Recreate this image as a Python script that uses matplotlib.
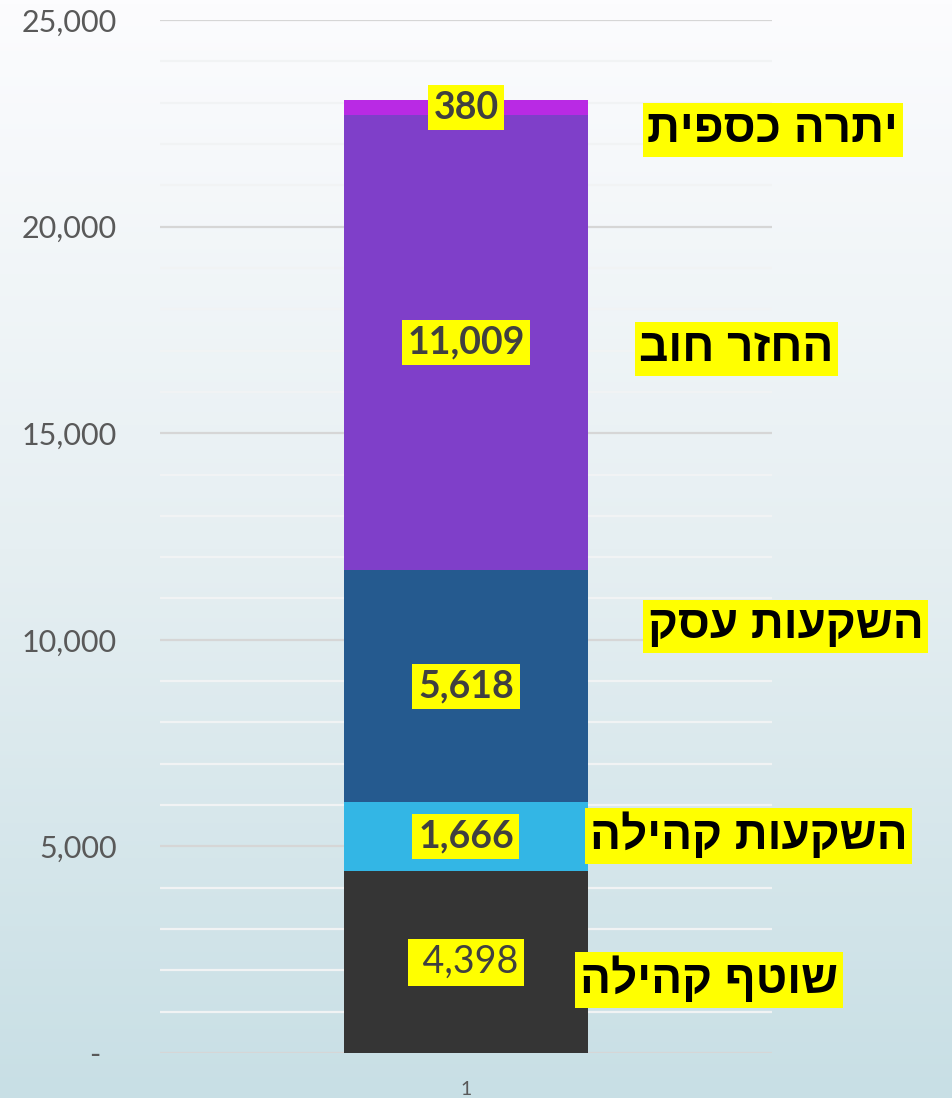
import matplotlib
matplotlib.use("Agg")
import matplotlib.pyplot as plt
import numpy as np
from matplotlib.colors import LinearSegmentedColormap
from matplotlib.ticker import FuncFormatter, MultipleLocator

# ---- data ----
categories = ["1"]
series_names = ["שוטף קהילה", "השקעות קהילה", "השקעות עסק", "החזר חוב", "יתרה כספית"]
series_values = [4398, 1666, 5618, 11009, 380]
series_colors = ["#353535", "#33b6e5", "#255a8f", "#7f3fc9", "#b92ae4"]
value_bold = [False, True, True, True, True]
y_ticks = [0, 5000, 10000, 15000, 20000, 25000]

# layout of the Hebrew name labels (axes fraction)
name_pos = [(0.897, 0.071), (0.962, 0.210), (1.022, 0.413), (0.942, 0.6815), (1.0015, 0.8935)]

W, H = 953, 1098
fig = plt.figure(figsize=(W / 100, H / 100), dpi=100)

# gradient background
bg = fig.add_axes([0, 0, 1, 1], zorder=-10)
cmap = LinearSegmentedColormap.from_list("bg", ["#fcfcfe", "#e6eff2", "#c8dfe5"])
grad = np.linspace(0, 1, 256).reshape(-1, 1)
bg.imshow(grad, aspect="auto", cmap=cmap, extent=[0, 1, 0, 1], origin="upper")
bg.set_axis_off()

ax = fig.add_axes([160 / W, (H - 1053) / H, 612 / W, 1033 / H])
ax.patch.set_alpha(0)

x = np.arange(len(categories))
bottom = 0
for name, val, col, bold in zip(series_names, series_values, series_colors, value_bold):
    ax.bar(x, [val], bottom=bottom, width=0.4, color=col, zorder=3)
    ax.text(x[0], bottom + val / 2, f" {val:,}" if not bold else f"{val:,}",
            ha="center", va="center", fontsize=27, family=["Lato", "DejaVu Sans"],
            fontweight="bold" if bold else "normal", color="#404040", zorder=5,
            bbox=dict(boxstyle="square,pad=0.15", fc="#ffff00", ec="none"))
    bottom += val

for name, (px, py) in zip(series_names, name_pos):
    ax.text(px, py, name[::-1], transform=ax.transAxes, ha="center", va="center",
            fontsize=33, fontweight="bold", family=["Liberation Sans", "DejaVu Sans"],
            color="black", zorder=6, clip_on=False,
            bbox=dict(boxstyle="square,pad=0.1", fc="#ffff00", ec="none"))

ax.set_xlim(-0.5, 0.5)
ax.set_ylim(0, 25000)
ax.set_yticks(y_ticks)
ax.yaxis.set_minor_locator(MultipleLocator(1000))
ax.yaxis.set_major_formatter(FuncFormatter(lambda v, p: "-  " if v == 0 else f"{int(v):,}"))
ax.grid(axis="y", which="major", color="#d6d6d6", lw=1.6, zorder=1)
ax.grid(axis="y", which="minor", color="#f1f3f4", lw=1.6, zorder=0.9)
ax.tick_params(axis="y", which="both", length=0, pad=31, labelsize=22, labelcolor="#595959")
ax.tick_params(axis="x", length=0, pad=20, labelsize=14, labelcolor="#595959")
for lab in ax.get_yticklabels():
    lab.set_family(["Lato", "DejaVu Sans"])
ax.set_xticks(x)
ax.set_xticklabels(categories, family=["Lato", "DejaVu Sans"])
for s in ax.spines.values():
    s.set_visible(False)

fig.savefig("out.png", dpi=100)
